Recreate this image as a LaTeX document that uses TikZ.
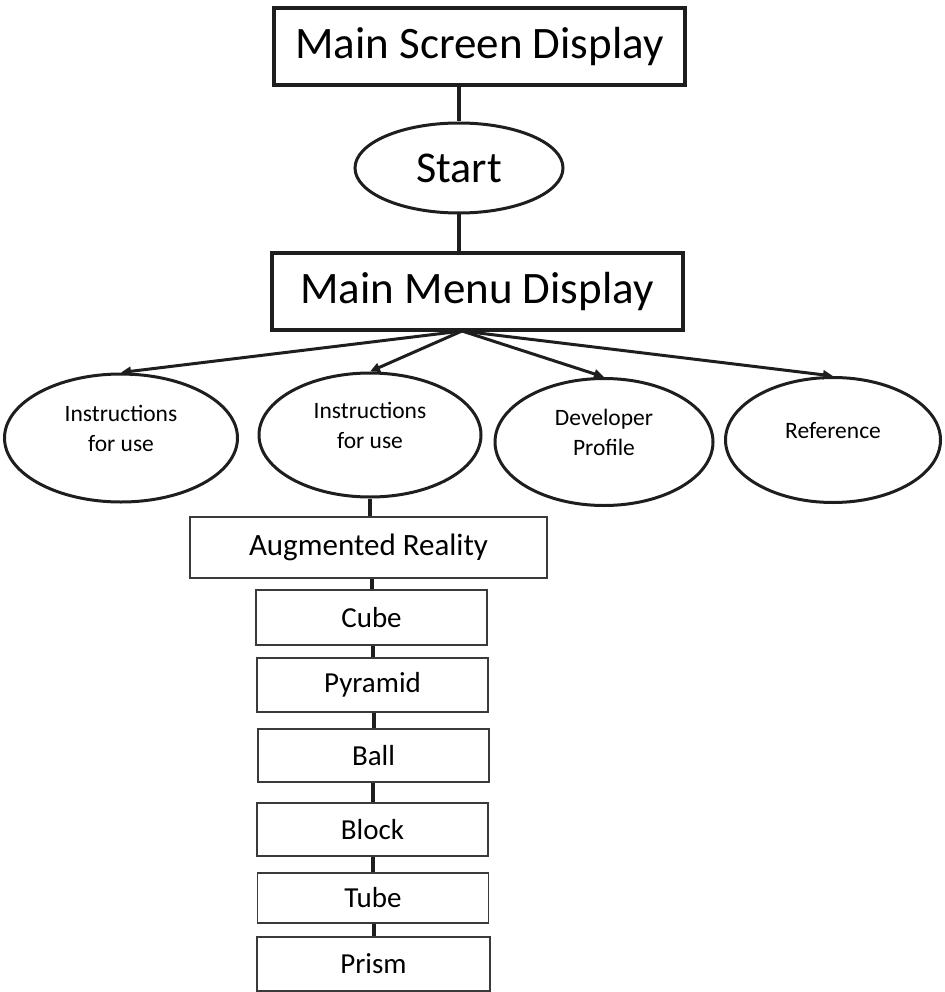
\documentclass[tikz,border=0pt]{standalone}
\usepackage{fontspec}
\setmainfont{Carlito}
\usetikzlibrary{arrows.meta,positioning,shapes.geometric}
\definecolor{ink}{HTML}{1E1E1E}
\definecolor{inkl}{HTML}{3A3A3A}
\tikzset{
  % heavy framed screens at the top
  bigbox/.style = {rectangle, draw=ink, line width=4pt, fill=white, inner sep=0pt,
                   minimum width=411pt, minimum height=77pt,
                   font=\fontsize{45}{50}\selectfont},
  oval/.style   = {ellipse, draw=ink, line width=3pt, fill=white, inner sep=0pt,
                   minimum width=208pt, minimum height=90pt,
                   font=\fontsize{44}{48}\selectfont},
  bub/.style    = {ellipse, draw=ink, line width=3pt, fill=white, inner sep=0pt,
                   align=center, font=\fontsize{23.5}{30}\selectfont},
  item/.style   = {rectangle, draw=inkl, line width=1.5pt, fill=white, inner sep=0pt,
                   minimum width=231pt, minimum height=53pt,
                   font=\fontsize{29}{34}\selectfont},
  link/.style   = {ink, line width=4pt},
  arr/.style    = {-{Triangle[length=10pt,width=9pt]}, ink, line width=3pt},
}
\begin{document}
\begin{tikzpicture}[x=1pt,y=-1pt]
\useasboundingbox (0,0) rectangle (944,992);
% top of the chart
\node[bigbox] (scr) at (479.5,46.5) {Main Screen Display};
\node[oval] (start) at (459,168) {Start};
\node[bigbox] (menu) at (477,291.5) {Main Menu Display};
\draw[link] (scr.south -| start.north) -- (start.north);
\draw[link] (start.south) -- (start.south |- menu.north);

% menu choices
\node[bub, minimum width=233pt, minimum height=128pt] (ins1) at (121,438) {Instructions\\for use\\[-10pt]};
\node[bub, minimum width=222pt, minimum height=124pt] (ins2) at (370,435) {Instructions\\for use\\[-10pt]};
\node[bub, minimum width=218pt, minimum height=127pt] (dev) at (604,442) {Developer\\Profile\\[-10pt]};
\node[bub, minimum width=215pt, minimum height=125pt] (ref) at (833,440) {Reference\\[-10pt]};
\coordinate (hub) at (462,331);
\foreach \n in {ins1,ins2,dev,ref}
  \draw[arr] (hub) -- (\n.north);

% augmented reality chain
\node[item, minimum width=357pt, minimum height=61pt, font=\fontsize{31}{36}\selectfont] (ar) at (368.5,547.5) {Augmented Reality};
\node[item, minimum height=55pt] (cube) at (371.5,617.5) {Cube};
\node[item, minimum height=54pt] (pyr) at (372.5,685) {Pyramid};
\node[item] (ball) at (373.5,755.5) {Ball};
\node[item] (block) at (372.5,829.5) {Block};
\node[item, minimum height=50pt] (tube) at (373,898) {Tube};
\node[item, minimum width=233pt, minimum height=54pt] (prism) at (373.5,964) {Prism};
\draw[link] (ins2.south) -- (ins2.south |- ar.north);
\foreach \a/\b in {ar/cube,cube/pyr,pyr/ball,ball/block,block/tube,tube/prism}
  \draw[link] (\b.north |- \a.south) -- (\b.north);
\end{tikzpicture}
\end{document}
